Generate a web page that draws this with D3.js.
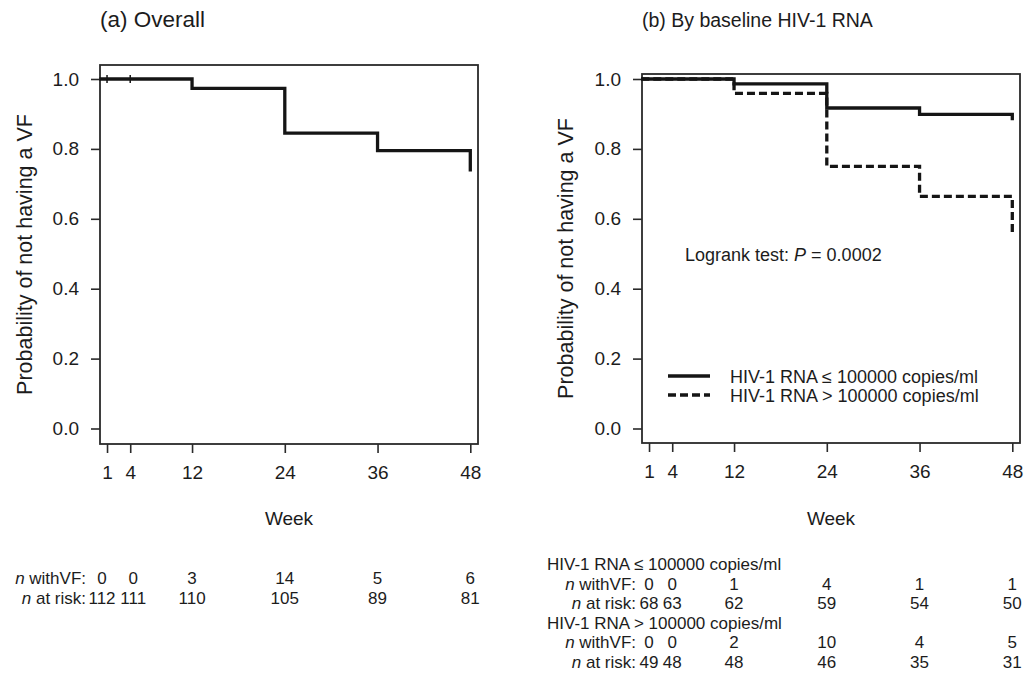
<!DOCTYPE html>
<html>
<head>
<meta charset="utf-8">
<script src="https://cdn.jsdelivr.net/npm/d3@7"></script>
<style>
  body { margin: 0; background: #fff; }
  svg text { font-family: "Liberation Sans", Arial, Helvetica, sans-serif; fill: #1c1c1c; }
</style>
</head>
<body>
<div id="chart"></div>
<script>
// data
var weeks = [1, 4, 12, 24, 36, 48];
var yTicks = [0, 0.2, 0.4, 0.6, 0.8, 1.0];

// Kaplan-Meier step points (time, survival)
var kmTimes = [0, 12, 24, 36, 48];
var overallSurv = [1, 0.973, 0.845, 0.795, 0.735];
var lowSurv = [1, 0.986, 0.917, 0.899, 0.882];
var highSurv = [1, 0.959, 0.750, 0.664, 0.556];
var censorWeeks = [1, 4];

// numbers at risk table
var overallVF = [0, 0, 3, 14, 5, 6];
var overallRisk = [112, 111, 110, 105, 89, 81];
var lowVF = [0, 0, 1, 4, 1, 1];
var lowRisk = [68, 63, 62, 59, 54, 50];
var highVF = [0, 0, 2, 10, 4, 5];
var highRisk = [49, 48, 48, 46, 35, 31];

var groupLabels = ["HIV-1 RNA \u2264 100000 copies/ml", "HIV-1 RNA > 100000 copies/ml"];

var svg = d3.select("#chart").append("svg")
    .attr("width", 1032)
    .attr("height", 680);

function toPoints(surv) {
    return kmTimes.map(function(t, i) { return [t, surv[i]]; });
}

function drawPanel(opt) {
    var x = d3.scaleLinear().domain([0, 48]).range([opt.left - 0.7, opt.left + 370.3]);
    var y = d3.scaleLinear().domain([0, 1]).range([428.5, 79]);
    var g = svg.append("g");

    // frame
    g.append("rect")
        .attr("x", opt.left).attr("y", opt.top)
        .attr("width", 378).attr("height", opt.bottom - opt.top)
        .attr("fill", "none").attr("stroke", "#2a2a2a").attr("stroke-width", 1.8);

    // y axis
    var ya = g.append("g")
        .attr("transform", "translate(" + opt.left + ",0)")
        .call(d3.axisLeft(y).tickValues(yTicks).tickSize(9).tickPadding(12)
            .tickFormat(d3.format(".1f")));
    ya.select(".domain").remove();
    ya.selectAll("line").attr("stroke", "#2a2a2a").attr("stroke-width", 1.6);
    ya.selectAll("text").style("font-size", "19px").attr("fill", "#1c1c1c")
        .style("font-family", "'Liberation Sans', Arial, sans-serif");

    // x axis
    var xa = g.append("g")
        .attr("transform", "translate(0," + opt.bottom + ")")
        .call(d3.axisBottom(x).tickValues(weeks).tickSize(9).tickPadding(13));
    xa.select(".domain").remove();
    xa.selectAll("line").attr("stroke", "#2a2a2a").attr("stroke-width", 1.6);
    xa.selectAll("text").style("font-size", "19px").attr("fill", "#1c1c1c")
        .style("font-family", "'Liberation Sans', Arial, sans-serif");

    // axis titles
    g.append("text")
        .attr("x", opt.left + 189).attr("y", 525)
        .attr("text-anchor", "middle").style("font-size", "19px")
        .text("Week");
    g.append("text")
        .attr("transform", "translate(" + opt.yTitleX + "," + ((opt.top + opt.bottom) / 2) + ") rotate(-90)")
        .attr("text-anchor", "middle").style("font-size", "21.5px")
        .text("Probability of not having a VF");

    // panel title
    g.append("text")
        .attr("x", opt.left).attr("y", 27)
        .style("font-size", opt.titleSize + "px")
        .text(opt.title);

    var line = d3.line()
        .x(function(d) { return x(d[0]); })
        .y(function(d) { return y(d[1]); })
        .curve(d3.curveStepAfter);

    opt.curves.forEach(function(c) {
        g.append("path")
            .datum(toPoints(c.surv))
            .attr("d", line)
            .attr("fill", "none")
            .attr("stroke", "#151515")
            .attr("stroke-width", 3.3)
            .attr("stroke-dasharray", c.dash || null);
    });

    return { g: g, x: x, y: y };
}

// one row of the table: italic n + label, then a number under each week tick
function numRow(g, x, labelX, yPos, label, values, shift) {
    var t = g.append("text").attr("x", labelX).attr("y", yPos)
        .attr("text-anchor", "end").style("font-size", "17px");
    t.append("tspan").style("font-style", "italic").text("n");
    t.append("tspan").text(label);
    g.selectAll(null).data(values).enter().append("text")
        .attr("x", function(d, i) { return x(weeks[i]) + (shift ? shift[i] || 0 : 0); })
        .attr("y", yPos)
        .attr("text-anchor", "middle")
        .style("font-size", "17px")
        .text(function(d) { return d; });
}

// (a) Overall
var pa = drawPanel({
    left: 100, top: 65, bottom: 444, yTitleX: 32,
    title: "(a) Overall", titleSize: 22.5,
    curves: [{ surv: overallSurv }]
});
pa.g.selectAll(".censor").data(censorWeeks).enter().append("line")
    .attr("x1", function(d) { return pa.x(d); })
    .attr("x2", function(d) { return pa.x(d); })
    .attr("y1", pa.y(1) - 4).attr("y2", pa.y(1) + 4)
    .attr("stroke", "#151515").attr("stroke-width", 1.5);

var leftShift = [-5, 3];
numRow(pa.g, pa.x, 86, 584, " withVF:", overallVF, leftShift);
numRow(pa.g, pa.x, 86, 603.5, " at risk:", overallRisk, leftShift);

// (b) By baseline HIV-1 RNA
var pb = drawPanel({
    left: 642, top: 74, bottom: 443, yTitleX: 573,
    title: "(b) By baseline HIV-1 RNA", titleSize: 19.5,
    curves: [{ surv: highSurv, dash: "8,4" }, { surv: lowSurv }]
});

var lg = pb.g.append("text").attr("x", 685).attr("y", 261).style("font-size", "18px");
lg.append("tspan").text("Logrank test: ");
lg.append("tspan").style("font-style", "italic").text("P");
lg.append("tspan").text(" = 0.0002");

// legend
var legendY = [376, 395];
var legendDash = [null, "8,4"];
groupLabels.forEach(function(lbl, i) {
    pb.g.append("line")
        .attr("x1", 668).attr("x2", 710)
        .attr("y1", legendY[i]).attr("y2", legendY[i])
        .attr("stroke", "#151515").attr("stroke-width", 3.3)
        .attr("stroke-dasharray", legendDash[i]);
    pb.g.append("text")
        .attr("x", 730).attr("y", legendY[i] + 6.5)
        .style("font-size", "18px")
        .text(lbl);
});

// numbers at risk, by group
var groupTable = [
    { label: groupLabels[0], vf: lowVF, risk: lowRisk, y: 570 },
    { label: groupLabels[1], vf: highVF, risk: highRisk, y: 628.5 }
];
groupTable.forEach(function(grp) {
    pb.g.append("text").attr("x", 547).attr("y", grp.y)
        .style("font-size", "17px").text(grp.label);
    numRow(pb.g, pb.x, 636, grp.y + 19.5, " withVF:", grp.vf);
    numRow(pb.g, pb.x, 636, grp.y + 39, " at risk:", grp.risk);
});
</script>
</body>
</html>
